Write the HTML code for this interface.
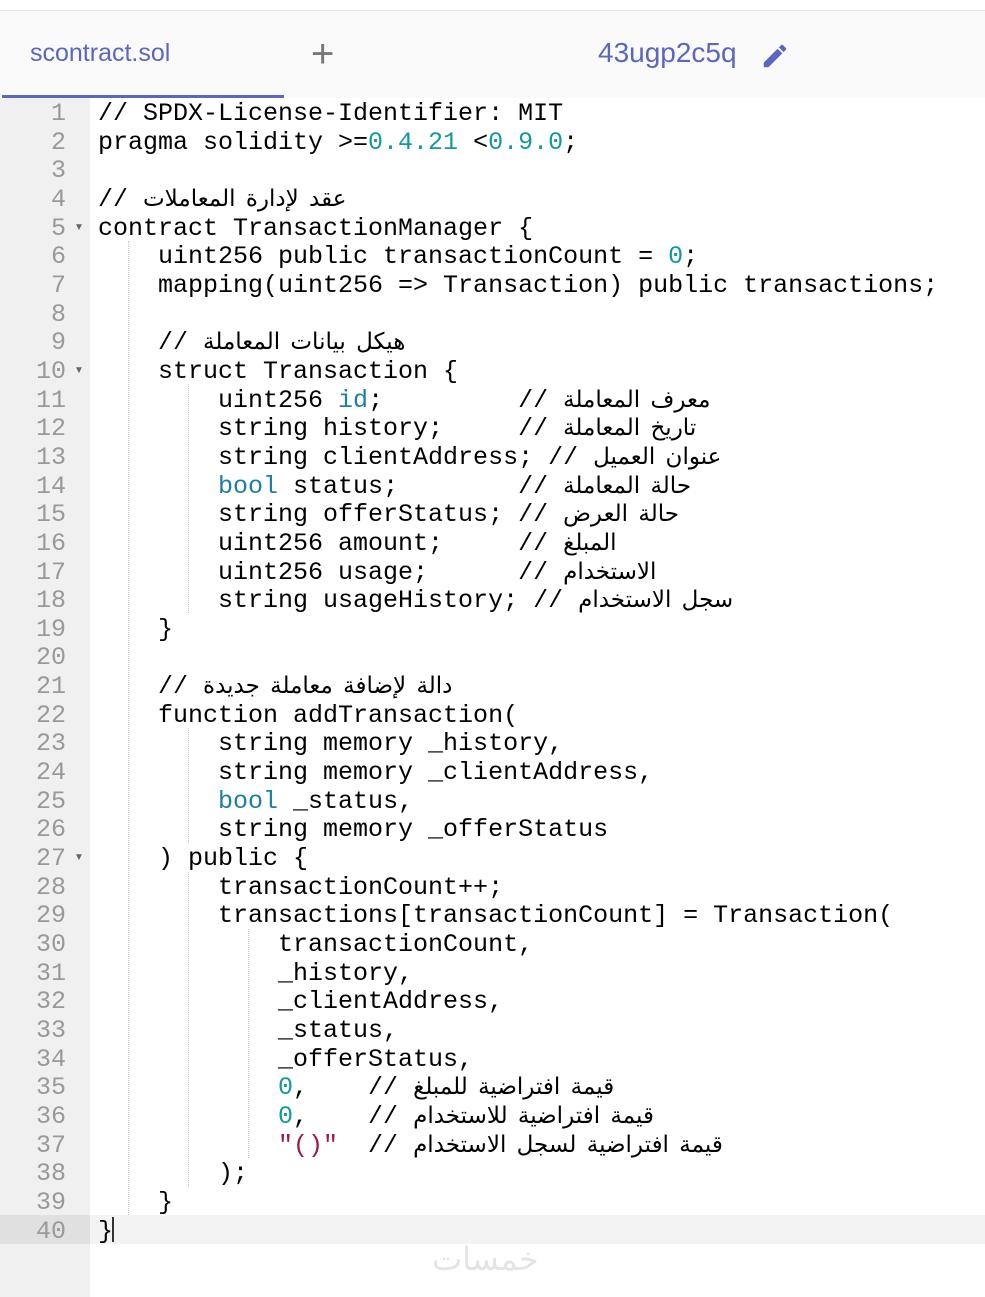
<!DOCTYPE html>
<html><head><meta charset="utf-8"><style>
body{margin:0;width:985px;height:1297px;background:#fff;position:relative;overflow:hidden;font-family:"Liberation Sans","Noto Sans CJK SC",sans-serif}
.topline{position:absolute;left:0;top:10px;width:985px;height:1px;background:#e6e6ee}
.tabbar{position:absolute;left:0;top:11px;width:985px;height:87px;background:#fafafa}
.t1{position:absolute;left:30px;top:39px;font-size:25px;color:#5a66c0}
.plus{position:absolute;left:311px;top:32px;font-size:40px;color:#777}
.t2{position:absolute;left:598px;top:37px;font-size:28px;color:#5a66c0}
.ul{position:absolute;left:2px;top:95px;width:282px;height:3px;background:#5a66c0}
.gut{position:absolute;left:0;top:98px;width:90px;height:1199px;background:#f0f0f0}
.hl{position:absolute;left:90px;top:1215px;width:895px;height:29px;background:#f3f3f3}
.hlg{position:absolute;left:0;top:1215px;width:90px;height:29px;background:#e0e0e0}
pre{margin:0;position:absolute;top:100px;font-family:"Liberation Mono","DejaVu Sans Mono",monospace;font-size:25px;line-height:28.65px}
.nums{left:0;width:66px;text-align:right;color:#999}
.code{left:98px;color:#000}
.a{font-family:"DejaVu Sans",sans-serif;font-size:23px;line-height:0;word-spacing:3px}
.n{color:#119a9a}.k{color:#1d7fa6}.s{color:#a31545}
.g{position:absolute;width:0;border-left:1px dotted #c8c8c8}
.fold{position:absolute;left:74px;font-size:10px;color:#666}
.wm{position:absolute;left:432px;top:1240px;font-size:32px;color:#e4e4e4;font-family:"DejaVu Sans",sans-serif}
.cur{position:absolute;left:112px;top:1217px;width:2px;height:25px;background:#333}
</style></head><body>
<div class="topline"></div>
<div class="tabbar"></div>
<div class="t1">scontract.sol</div>
<div class="plus">+</div>
<div class="t2">43ugp2c5q</div>
<svg style="position:absolute;left:760px;top:41px" width="30" height="30" viewBox="0 0 24 24"><path fill="#5a66c0" d="M3 17.25V21h3.75L17.81 9.940l-3.75-3.75L3 17.25zM20.71 7.04a1 1 0 000-1.41l-2.34-2.34a1 1 0 00-1.41 0l-1.83 1.83 3.75 3.75 1.83-1.83z"/></svg>
<div class="ul"></div>
<div class="gut"></div>
<div class="hl"></div><div class="hlg"></div>
<div class="g" style="left:128px;top:241px;height:974px"></div>
<div class="g" style="left:188px;top:384px;height:229px"></div>
<div class="g" style="left:188px;top:728px;height:115px"></div>
<div class="g" style="left:188px;top:872px;height:315px"></div>
<div class="g" style="left:248px;top:929px;height:229px"></div>
<div class="fold" style="top:222px">▼</div>
<div class="fold" style="top:365px">▼</div>
<div class="fold" style="top:852px">▼</div>
<pre class="nums">1
2
3
4
5
6
7
8
9
10
11
12
13
14
15
16
17
18
19
20
21
22
23
24
25
26
27
28
29
30
31
32
33
34
35
36
37
38
39
40</pre>
<pre class="code">// SPDX-License-Identifier: MIT
pragma solidity &gt;=<span class="n">0.4.21</span> &lt;<span class="n">0.9.0</span>;

// <span class="a">عقد لإدارة المعاملات</span>
contract TransactionManager {
    uint256 public transactionCount = <span class="n">0</span>;
    mapping(uint256 =&gt; Transaction) public transactions;

    // <span class="a">هيكل بيانات المعاملة</span>
    struct Transaction {
        uint256 <span class="k">id</span>;         // <span class="a">معرف المعاملة</span>
        string history;     // <span class="a">تاريخ المعاملة</span>
        string clientAddress; // <span class="a">عنوان العميل</span>
        <span class="k">bool</span> status;        // <span class="a">حالة المعاملة</span>
        string offerStatus; // <span class="a">حالة العرض</span>
        uint256 amount;     // <span class="a">المبلغ</span>
        uint256 usage;      // <span class="a">الاستخدام</span>
        string usageHistory; // <span class="a">سجل الاستخدام</span>
    }

    // <span class="a">دالة لإضافة معاملة جديدة</span>
    function addTransaction(
        string memory _history,
        string memory _clientAddress,
        <span class="k">bool</span> _status,
        string memory _offerStatus
    ) public {
        transactionCount++;
        transactions[transactionCount] = Transaction(
            transactionCount,
            _history,
            _clientAddress,
            _status,
            _offerStatus,
            <span class="n">0</span>,    // <span class="a">قيمة افتراضية للمبلغ</span>
            <span class="n">0</span>,    // <span class="a">قيمة افتراضية للاستخدام</span>
            <span class="s">"()"</span>  // <span class="a">قيمة افتراضية لسجل الاستخدام</span>
        );
    }
}</pre>
<div class="cur"></div>
<div class="wm">خمسات</div>
</body></html>
